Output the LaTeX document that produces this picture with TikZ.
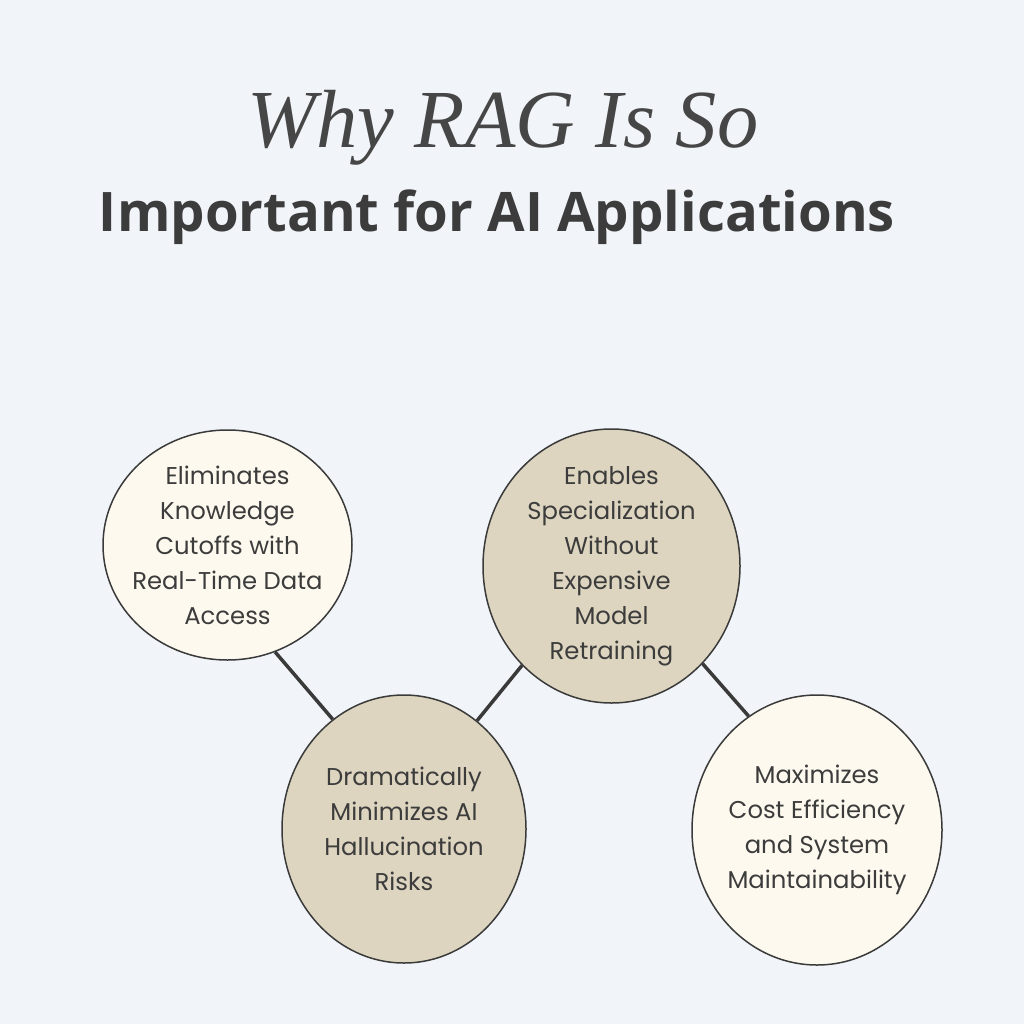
\documentclass[tikz,border=0pt]{standalone}
\usepackage{fontspec}
\usetikzlibrary{shapes.geometric}
\newfontfamily\bodyfont{Poppins}
\newfontfamily\headfont{Open Sans}
\newfontfamily\titlefont{Liberation Serif}
\definecolor{bg}{HTML}{F1F5F9}
\definecolor{cream}{HTML}{FDF9EE}
\definecolor{tan}{HTML}{DDD5BF}
\definecolor{ink}{HTML}{3C3C3C}
\definecolor{edge}{HTML}{3A3A3A}
\tikzset{
  bubble/.style={ellipse, draw=edge, line width=1.5pt, inner sep=0pt},
  label/.style={align=center, text=ink, font=\bodyfont\fontsize{24.3}{35}\selectfont, inner sep=0pt},
  link/.style={draw=edge, line width=3.5pt}
}
\begin{document}
\begin{tikzpicture}[x=1pt,y=-1pt]
\fill[bg] (0,0) rectangle (1024,1024);
\useasboundingbox (0,0) rectangle (1024,1024);
\node[anchor=base, text=ink!95!white, font=\titlefont\itshape\fontsize{82.5}{82.5}\selectfont, inner sep=0pt] (t1) at (503,148) {Why RAG Is So};
\node[anchor=base, text=ink, font=\headfont\bfseries\fontsize{54.5}{54.5}\selectfont, inner sep=0pt] (t2) at (497,232) {Important for AI Applications};

\node[bubble, fill=cream, minimum width=249pt, minimum height=230pt] (c1) at (227.5,545) {};
\node[bubble, fill=tan, minimum width=244pt, minimum height=268pt] (c2) at (404,829) {};
\node[bubble, fill=tan, minimum width=257pt, minimum height=274pt] (c3) at (611.5,566) {};
\node[bubble, fill=cream, minimum width=250pt, minimum height=270pt] (c4) at (817,830) {};

\draw[link] (c1.-66) -- (c2.123.5);
\draw[link] (c2.56) -- (c3.-132.7);
\draw[link] (c3.-47) -- (c4.121);

\node[label] (l1) at (c1.center) {Eliminates\\Knowledge\\Cutoffs with\\Real-Time Data\\Access};
\node[label] (l2) at (c2.center) {Dramatically\\Minimizes AI\\Hallucination\\Risks};
\node[label] (l3) at (c3.center) {Enables\\Specialization\\Without\\Expensive\\Model\\Retraining};
\node[label] (l4) at (c4.center) {Maximizes\\Cost Efficiency\\and System\\Maintainability};
\end{tikzpicture}
\end{document}
